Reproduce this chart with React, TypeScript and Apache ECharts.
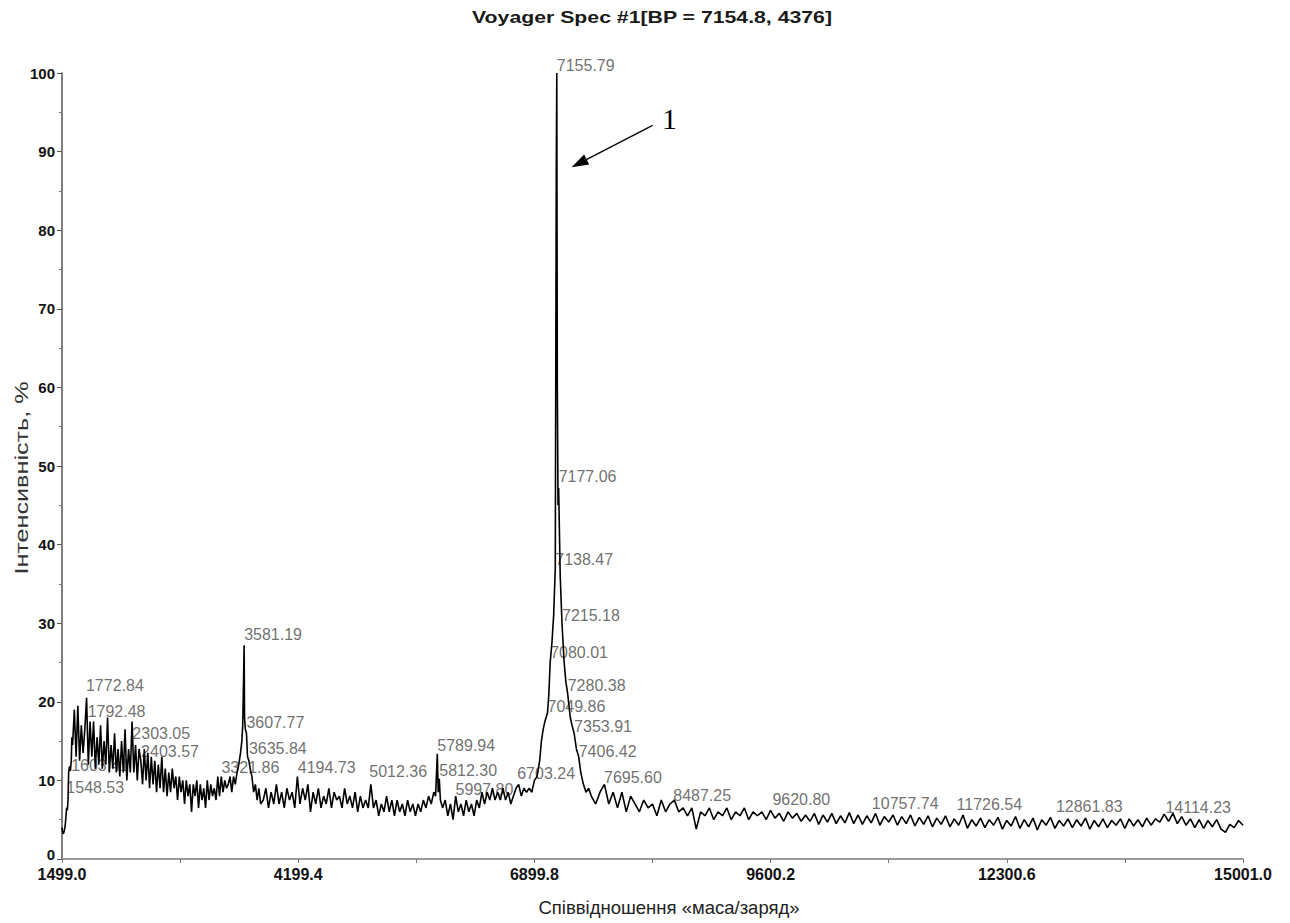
import React, { useEffect, useRef } from "react";
import * as echarts from "echarts";

const titleText = "Voyager Spec #1[BP = 7154.8, 4376]";
const xName = "Співвідношення «маса/заряд»";
const yName = "Інтенсивність, %";

const xTickLabels = [1499.0, 4199.4, 6899.8, 9600.2, 12300.6, 15001.0];
const xTickAll = [1499.0, 2849.2, 4199.4, 5549.6, 6899.8, 8250.0, 9600.2, 10950.4, 12300.6, 13650.8, 15001.0];

// segment A: start of spectrum
const segAmz = [1499, 1505, 1515, 1525, 1535, 1545, 1552, 1560, 1568, 1575, 1585, 1595, 1605, 1612];
const segAval = [4.0, 3.5, 3.2, 3.6, 4.2, 5.5, 6.5, 6.2, 7.5, 11.0, 11.8, 11.2, 12.5, 15.5];

// segment B: noisy low-mass region, sampled every 20 Da from 1620
const segBstart = 1620;
const segBstep = 20;
const segBval = [
  14.5, 19.0, 13.0, 19.5, 12.5, 17.0, 13.5, 16.5, 20.5, 12.0,
  17.5, 13.0, 17.5, 11.5, 15.5, 12.0, 17.0, 11.5, 15.0, 12.0,
  18.0, 11.0, 14.5, 11.5, 16.0, 11.0, 14.0, 10.5, 15.0, 11.0,
  16.5, 10.0, 14.0, 11.0, 17.5, 11.0, 14.5, 10.0, 14.0, 12.5,
  9.5, 14.0, 10.0, 13.5, 9.0, 13.0, 9.5, 12.5, 8.5, 12.0,
  9.0, 13.0, 8.5, 11.5, 8.0, 11.0, 8.5, 11.5, 9.0, 10.5,
  7.5, 10.5, 8.5, 10.0, 7.0, 10.0, 8.0, 9.5, 6.0, 9.5,
  8.0, 10.0, 6.5, 9.5, 7.5, 9.0, 6.5, 10.0, 7.5, 9.5,
  8.0, 9.0, 7.5, 10.5, 8.0, 10.5, 8.5, 10.0, 9.0,
];

// segment C: peak at 3581
const segCmz = [3400, 3420, 3440, 3460, 3480, 3500, 3520, 3540, 3555, 3565, 3575, 3581.19, 3586, 3595, 3607.77, 3620, 3635.84, 3650, 3670, 3690, 3710, 3730, 3750, 3770];
const segCval = [9.5, 10.5, 8.5, 10.5, 9.5, 11.0, 12.0, 13.5, 15.0, 17.0, 23.0, 27.2, 18.0, 16.5, 16.0, 13.0, 12.5, 11.5, 10.5, 8.5, 9.5, 7.5, 9.0, 7.0];

// segment D: every 30 Da from 3800
const segDstart = 3800;
const segDstep = 30;
const segDval = [
  7.5, 9.0, 6.5, 8.5, 7.0, 9.5, 7.0, 8.5, 6.5, 9.0,
  7.5, 8.5, 6.5, 10.5, 7.0, 9.0, 7.5, 9.5, 6.0, 8.5,
  7.0, 9.0, 6.5, 8.0, 7.0, 9.0, 6.5, 8.5, 7.5, 8.0,
  6.5, 9.0, 7.0, 8.0, 6.5, 8.5, 6.0, 8.0, 6.5, 7.5,
  6.5, 9.5, 6.5, 7.5, 5.5, 7.0, 6.0, 8.0, 6.0, 7.5,
  5.5, 7.5, 6.0, 7.0, 5.5, 7.5, 6.0, 7.0, 5.5, 7.0,
  6.0, 7.5, 6.5, 8.0, 7.0, 8.5,
];

// segment E: peak at 5790
const segEmz = [5770, 5789.94, 5800, 5812.3, 5825];
const segEval = [8.0, 13.4, 8.5, 10.2, 7.5];

// segment F: every 30 Da from 5850
const segFstart = 5850;
const segFstep = 30;
const segFval = [
  6.5, 7.5, 5.5, 7.0, 5.0, 8.0, 6.0, 7.0, 5.5, 7.5,
  6.0, 7.0, 5.5, 7.5, 6.5, 8.5, 7.0, 8.5, 7.5, 9.0,
  7.5, 8.5, 7.5, 9.0, 7.5, 8.5, 7.0, 8.0, 9.0, 9.5,
  8.0, 9.0, 8.5,
];

// segment G: main peak
const segGmz = [6840, 6870, 6900, 6930, 6960, 6980, 7000, 7020, 7049.86, 7065, 7080.01, 7100, 7120, 7138.47, 7150, 7155.79, 7162, 7170, 7177.06, 7195, 7215.18, 7240, 7260, 7280.38, 7310, 7330, 7353.91, 7380, 7406.42, 7430, 7460, 7490, 7520];
const segGval = [9.0, 8.5, 10.0, 10.5, 12.5, 15.0, 16.5, 17.5, 18.6, 21.0, 25.0, 27.5, 31.0, 37.0, 88.0, 100, 60.0, 45.0, 47.2, 36.0, 30.0, 25.0, 22.5, 21.0, 18.0, 17.0, 16.0, 14.0, 13.0, 11.0, 9.5, 8.5, 9.0];

// segment H: every 50 Da from 7550
const segHstart = 7550;
const segHstep = 50;
const segHval = [
  8.0, 7.0, 8.5, 9.5, 7.0, 8.5, 6.5, 8.5, 6.0, 8.0,
  7.0, 6.0, 7.5, 6.5, 7.0, 5.5, 7.5, 6.0, 7.0, 7.5,
  6.0, 6.5, 5.5, 6.5, 3.8, 6.0, 5.5, 6.5, 5.0, 6.0,
  5.5, 6.5, 5.0, 6.0, 5.5, 6.5, 5.0, 6.0, 5.5, 6.0,
  5.0, 6.2, 5.2, 5.8, 4.8, 6.0, 5.2, 5.8, 4.8, 5.6,
  4.8, 5.8, 4.4, 5.6, 4.7, 5.8, 4.5, 5.5, 4.6, 5.9,
  4.5, 5.6, 4.4, 5.5, 4.6, 5.8, 4.3, 5.4, 4.7, 5.6,
  4.3, 5.4, 4.5, 5.6, 4.2, 5.3, 4.4, 5.5, 4.1, 5.2,
  4.4, 5.5, 4.1, 5.1, 4.3, 5.6, 3.9, 5.0, 4.2, 5.2,
  4.0, 5.0, 4.3, 5.3, 3.8, 4.9, 4.2, 5.4, 3.9, 5.0,
  4.1, 5.2, 3.7, 5.0, 4.3, 5.3, 3.9, 4.9, 4.2, 5.1,
  4.0, 5.0, 4.2, 5.2, 3.8, 4.9, 4.1, 5.1, 4.0, 4.9,
  4.3, 5.1, 3.9, 5.1, 4.2, 5.0, 4.1, 5.2, 4.3, 5.1,
  4.7, 5.7, 4.8, 5.8, 4.5, 5.4, 4.3, 5.1, 4.0, 5.0,
  3.9, 4.9, 4.1, 5.0, 3.8, 3.4, 4.4, 4.0, 4.9,
];
const endMz = [15001];
const endVal = [4.3];

// peak annotations
const peakText = [
  "7155.79", "7177.06", "7138.47", "7215.18", "7080.01", "7280.38", "7049.86", "7353.91", "7406.42",
  "6703.24", "7695.60", "8487.25", "9620.80", "10757.74", "11726.54", "12861.83", "14114.23",
  "5789.94", "5812.30", "5997.80", "5012.36", "4194.73", "3321.86", "3635.84", "3607.77", "3581.19",
  "2303.05", "2403.57", "1772.84", "1792.48", "1603.41", "1548.53",
];
const peakMz = [
  7155.79, 7177.06, 7138.47, 7215.18, 7080.01, 7280.38, 7049.86, 7353.91, 7406.42,
  6703.24, 7695.6, 8487.25, 9620.8, 10757.74, 11726.54, 12861.83, 14114.23,
  5789.94, 5812.3, 5997.8, 5012.36, 4194.73, 3321.86, 3635.84, 3607.77, 3581.19,
  2303.05, 2403.57, 1772.84, 1792.48, 1603.41, 1548.53,
];
const peakInt = [
  100.0, 47.6, 37.1, 30.0, 25.3, 21.1, 18.4, 15.8, 12.6,
  9.9, 9.4, 7.0, 6.5, 6.1, 5.9, 5.6, 5.5,
  13.4, 10.2, 7.8, 10.1, 10.6, 10.6, 13.1, 16.4, 27.5,
  15.0, 12.6, 21.0, 17.8, 10.9, 8.1,
];

const arrowLabel = "1";
const arrowTarget = [7325, 88];

function seg(start: number, step: number, vals: number[]) {
  return vals.map((v, i) => [start + i * step, v]);
}
function pairs(mz: number[], vals: number[]) {
  return mz.map((m, i) => [m, vals[i]]);
}

export default function App() {
  const ref = useRef<HTMLDivElement>(null);
  useEffect(() => {
    if (!ref.current) return;
    const chart = echarts.init(ref.current, null, { renderer: "svg" });
    const spectrum = [
      ...pairs(segAmz, segAval),
      ...seg(segBstart, segBstep, segBval),
      ...pairs(segCmz, segCval),
      ...seg(segDstart, segDstep, segDval),
      ...pairs(segEmz, segEval),
      ...seg(segFstart, segFstep, segFval),
      ...pairs(segGmz, segGval),
      ...seg(segHstart, segHstep, segHval),
      ...pairs(endMz, endVal),
    ];
    const labelData = peakMz.map((m, i) => ({ value: [m, peakInt[i]], name: peakText[i] }));

    const textGraphics: any[] = [
      {
        id: "title", type: "text", x: 652, y: 17, scaleX: 1.25,
        style: { text: titleText, font: 'bold 17px "Liberation Sans", Arial, sans-serif', fill: "#1a1a1a", align: "center", verticalAlign: "middle", textAlign: "center", textVerticalAlign: "middle" },
      },
      {
        id: "yname", type: "text", x: 22, y: 478, rotation: Math.PI / 2, scaleX: 1.4,
        style: { text: yName, font: '18px "Liberation Sans", Arial, sans-serif', fill: "#333", align: "center", verticalAlign: "middle", textAlign: "center", textVerticalAlign: "middle" },
      },
      {
        id: "xname", type: "text", x: 669, y: 907,
        style: { text: xName, font: '18.5px "Liberation Sans", Arial, sans-serif', fill: "#222", align: "center", verticalAlign: "middle", textAlign: "center", textVerticalAlign: "middle" },
      },
    ];

    chart.setOption({
      animation: false,
      backgroundColor: "#ffffff",
      grid: { left: 62, right: 47, top: 73, bottom: 64, containLabel: false },
      xAxis: {
        type: "value",
        min: 1499,
        max: 15001,
        axisLine: { show: true, lineStyle: { color: "#9a9a9a", width: 2 } },
        axisTick: { show: true, customValues: xTickAll, length: 4, lineStyle: { color: "#777" } },
        axisLabel: {
          customValues: xTickLabels,
          formatter: (v: number) => v.toFixed(1),
          fontSize: 16,
          fontWeight: "bold",
          color: "#111",
          margin: 7,
          fontFamily: '"Liberation Sans", Arial, sans-serif',
        },
        splitLine: { show: false },
      },
      yAxis: {
        type: "value",
        min: 0,
        max: 100,
        interval: 10,
        axisLine: { show: true, lineStyle: { color: "#555", width: 1.5 } },
        axisTick: { show: true, length: 5, lineStyle: { color: "#555" } },
        minorTick: { show: true, splitNumber: 2, length: 3, lineStyle: { color: "#777" } },
        splitLine: { show: false },
        axisLabel: {
          fontSize: 15,
          fontWeight: "bold",
          color: "#111",
          margin: 7,
          fontFamily: '"Liberation Sans", Arial, sans-serif',
          formatter: (v: number) => (v === 0 ? "{z|0}" : String(v)),
          rich: {
            z: {
              fontSize: 15,
              fontWeight: "bold",
              color: "#111",
              fontFamily: '"Liberation Sans", Arial, sans-serif',
              padding: [0, 0, 10, 0],
            },
          },
        },
      },
      series: [
        {
          type: "line",
          data: spectrum,
          showSymbol: false,
          symbol: "none",
          lineStyle: { color: "#000", width: 1.6 },
          z: 3,
          silent: true,
        },
        {
          type: "scatter",
          data: labelData,
          symbolSize: 0,
          z: 2,
          silent: true,
          label: {
            show: true,
            formatter: "{b}",
            position: [0, 0],
            align: "left",
            verticalAlign: "bottom",
            color: "#4a4a4a",
            fontSize: 16,
            fontFamily: '"Liberation Sans", Arial, sans-serif',
          },
        },
      ],
      graphic: textGraphics,
    });

    const tip = chart.convertToPixel({ gridIndex: 0 }, arrowTarget) as number[];
    const tx = tip[0];
    const ty = tip[1];
    const dx = 81, dy = -42;
    const len = Math.sqrt(dx * dx + dy * dy);
    const ux = dx / len, uy = dy / len;
    const headLen = 17, headHalf = 5.5;
    const bx = tx + ux * headLen, by = ty + uy * headLen;
    const px = -uy * headHalf, py = ux * headHalf;
    chart.setOption({
      graphic: [
        ...textGraphics,
        {
          id: "arrowLine", type: "line",
          shape: { x1: bx - ux * 2, y1: by - uy * 2, x2: tx + dx, y2: ty + dy },
          style: { stroke: "#000", lineWidth: 1.3 },
        },
        {
          id: "arrowHead", type: "polygon",
          shape: { points: [[tx, ty], [bx + px, by + py], [bx - px, by - py]] },
          style: { fill: "#000" },
        },
        {
          id: "arrowText", type: "text", x: tx + dx + 17, y: ty + dy - 7,
          style: { text: arrowLabel, font: '30px "Liberation Serif", "Times New Roman", serif', fill: "#000", align: "center", verticalAlign: "middle", textAlign: "center", textVerticalAlign: "middle" },
        },
      ],
    });

    return () => chart.dispose();
  }, []);
  return (
    <div
      ref={ref}
      style={{ position: "fixed", left: 0, top: 0, width: 1290, height: 923, background: "#fff" }}
    />
  );
}
